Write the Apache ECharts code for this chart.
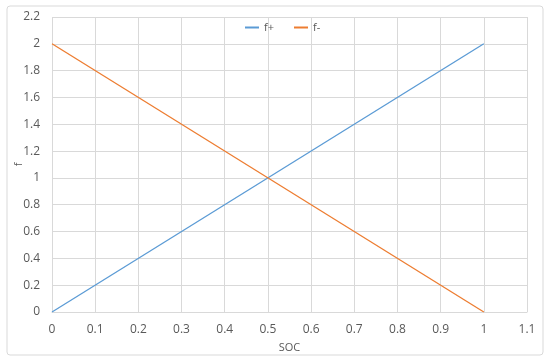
<!DOCTYPE html>
<html><head><meta charset="utf-8">
<script src="https://cdn.jsdelivr.net/npm/echarts@6/dist/echarts.min.js"></script>
<style>html,body{margin:0;padding:0;background:#fff}#c{width:550px;height:361px}</style>
</head><body><div id="c"></div>
<script>
const socValues = [0, 1];
const fPlus = [0, 2];
const fMinus = [2, 0];
const seriesNames = ['f+', 'f-'];
const xTicks = [0,0.1,0.2,0.3,0.4,0.5,0.6,0.7,0.8,0.9,1,1.1];
const yTicks = [0,0.2,0.4,0.6,0.8,1,1.2,1.4,1.6,1.8,2,2.2];

const chart = echarts.init(document.getElementById('c'));
const font = 'Open Sans, Liberation Sans, sans-serif';
const txt = '#595959';
chart.setOption({
  animation:false,
  graphic:[{type:'rect',shape:{x:7,y:6,width:536,height:349,r:3},style:{fill:'none',stroke:'#d9d9d9',lineWidth:1},z:-1}],
  legend:{top:17,left:240,itemWidth:14,itemHeight:2,itemGap:20,icon:'rect',
    textStyle:{color:txt,fontFamily:font,fontSize:11},data:seriesNames},
  grid:{left:52,right:23,top:17,bottom:49,containLabel:false,outerBoundsMode:'none'},
  xAxis:{type:'value',min:0,max:1.1,interval:0.1,name:'SOC',nameLocation:'middle',nameGap:30,nameMoveOverlap:false,
    nameTextStyle:{color:txt,fontFamily:font,fontSize:11},
    axisLine:{show:true,lineStyle:{color:'#d9d9d9'}},axisTick:{show:false},
    axisLabel:{color:txt,fontFamily:font,fontSize:12,margin:12,formatter:v=>{const i=xTicks.findIndex(t=>Math.abs(t-v)<1e-9);return i>=0?String(xTicks[i]):'';}},
    splitLine:{show:true,lineStyle:{color:'#d9d9d9'}}},
  yAxis:{type:'value',min:0,max:2.2,interval:0.2,name:'f',nameLocation:'middle',nameGap:28,nameMoveOverlap:false,
    nameTextStyle:{color:txt,fontFamily:font,fontSize:11},
    axisLine:{show:false},axisTick:{show:false},
    axisLabel:{color:txt,fontFamily:font,fontSize:12,margin:12,formatter:v=>{const i=yTicks.findIndex(t=>Math.abs(t-v)<1e-9);return i>=0?String(yTicks[i]):'';}},
    splitLine:{show:true,lineStyle:{color:'#d9d9d9'}}},
  series:[
    {name:seriesNames[0],type:'line',data:socValues.map((x,i)=>[x,fPlus[i]]),showSymbol:false,lineStyle:{color:'#5b9bd5',width:1.3},itemStyle:{color:'#5b9bd5'}},
    {name:seriesNames[1],type:'line',data:socValues.map((x,i)=>[x,fMinus[i]]),showSymbol:false,lineStyle:{color:'#ed7d31',width:1.3},itemStyle:{color:'#ed7d31'}}
  ]
});
</script></body></html>
